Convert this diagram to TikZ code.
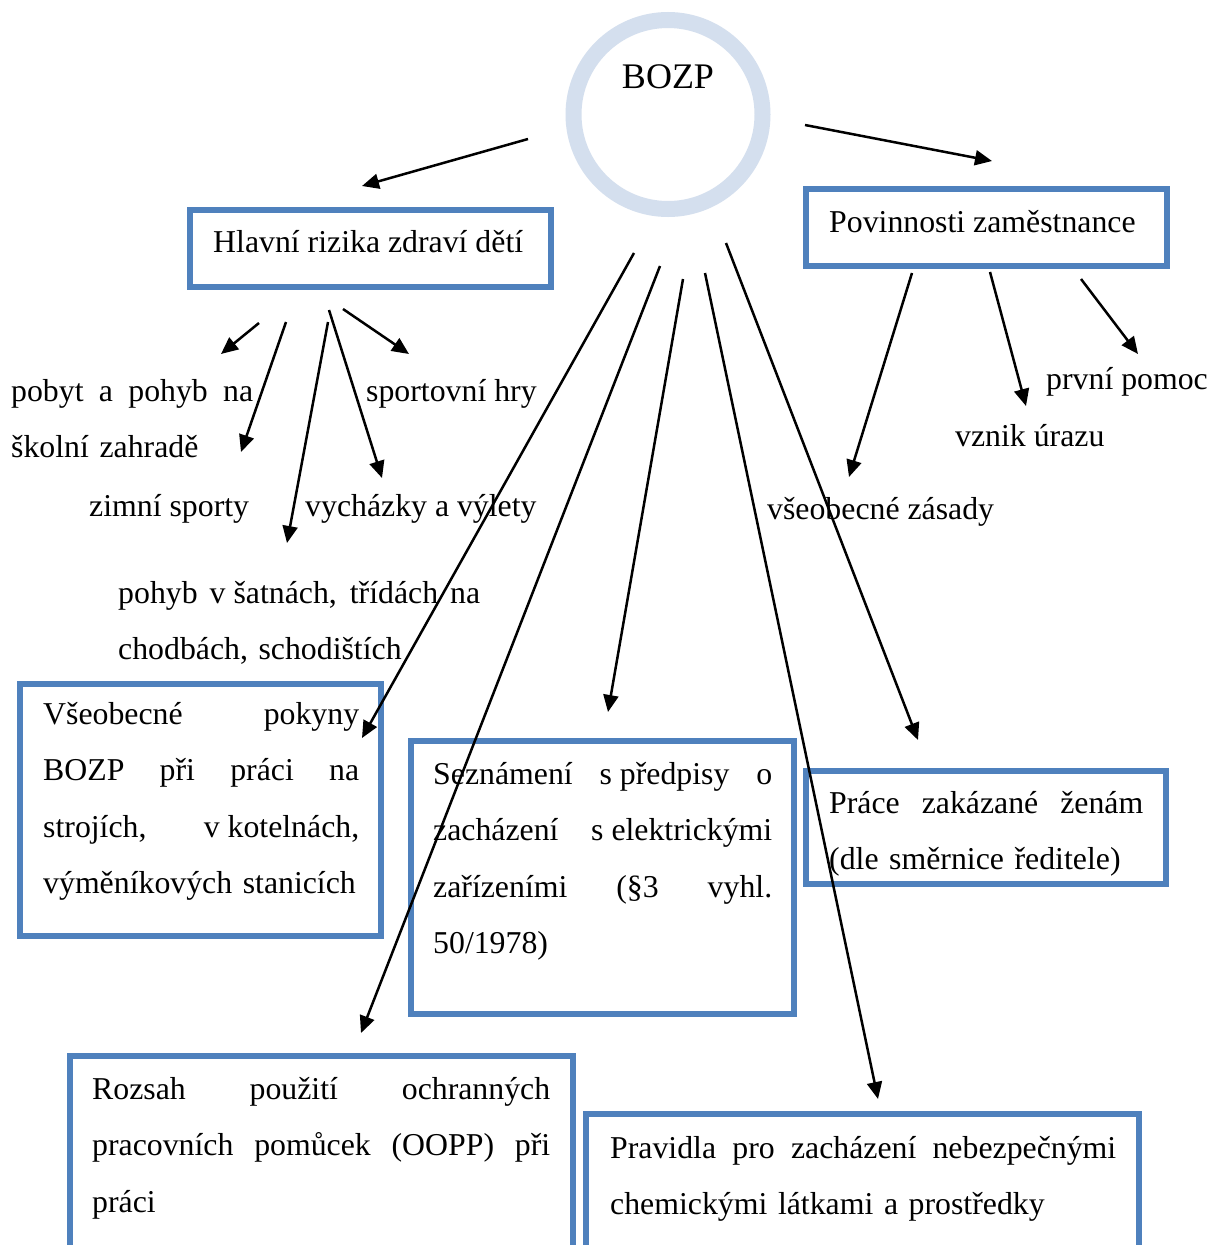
\documentclass[tikz,border=0pt]{standalone}
\usepackage{fontspec}
\setmainfont{Liberation Serif}
\usetikzlibrary{arrows.meta}
\definecolor{boxblue}{RGB}{79,129,189}
\definecolor{ringblue}{RGB}{212,223,238}
% fixed (non-stretching) space for one-letter prepositions
\newcommand\nb{\kern0.25em}
% a justified line of given width: every interword space stretches equally
\newcommand\jl[2]{\leavevmode\hbox to #1{\spaceskip=\fontdimen2\font plus 1fil\relax #2}}
\begin{document}
\begin{tikzpicture}[x=1pt,y=-1pt,
  frame/.style={draw=boxblue, line width=6pt},
  txt/.style={anchor=base west, inner sep=0pt, font=\fontsize{31.8}{56.6}\selectfont},
  para/.style={txt, text width=#1, align=left},
  arr/.style={line width=2.5pt, -{Triangle[length=17pt,width=15pt]}}]
\useasboundingbox (0,0) rectangle (1225,1245);
\clip (0,0) rectangle (1225,1245);
\fill[white] (0,0) rectangle (1225,1245);

% central ring
\node[circle, draw=ringblue, line width=16pt, minimum size=189pt, inner sep=0pt] (ring) at (668,114.5) {};
\node[anchor=base, inner sep=0pt, font=\fontsize{36}{40}\selectfont] (bozp) at (668,88) {BOZP};

% framed boxes
\draw[frame] (190,210) rectangle (551,287) node[pos=0] (b1) {};
\draw[frame] (806,189) rectangle (1167,266) node[pos=0] (b2) {};
\draw[frame] (20,684) rectangle (381,936) node[pos=0] (b3) {};
\draw[frame] (411,741) rectangle (794,1014) node[pos=0] (b4) {};
\draw[frame] (806,771) rectangle (1166,884) node[pos=0] (b5) {};
\draw[frame] (70,1056) rectangle (573,1270) node[pos=0] (b6) {};
\draw[frame] (586,1114) rectangle (1139,1270) node[pos=0] (b7) {};

% box texts
\node[txt] (hlavni) at (213,252) {Hlavní rizika zdraví dětí};
\node[txt] (povinnosti) at (829,232) {Povinnosti zaměstnance};
\node[para=316pt] (pokyny) at (43,724) {\jl{316pt}{Všeobecné pokyny}\\ \jl{316pt}{BOZP při práci na}\\ \jl{316pt}{strojích, v\nb kotelnách,}\\ výměníkových stanicích};
\node[para=339pt] (predpisy) at (433,784) {\jl{339pt}{Seznámení s\nb předpisy o}\\ \jl{339pt}{zacházení s\nb elektrickými}\\ \jl{339pt}{zařízeními (§3 vyhl.}\\ 50/1978)};
\node[para=314pt] (zeny) at (829,813) {\jl{314pt}{Práce zakázané ženám}\\ (dle směrnice ředitele)};
\node[para=458pt] (oopp) at (92,1099) {\jl{458pt}{Rozsah použití ochranných}\\ \jl{458pt}{pracovních pomůcek (OOPP) při}\\ práci};
\node[para=506pt] (chemie) at (610,1158) {\jl{506pt}{Pravidla pro zacházení nebezpečnými}\\ chemickými látkami a prostředky};

% free labels
\node[para=242pt] (zahrada) at (11,401) {\jl{242pt}{pobyt a pohyb na}\\ školní zahradě};
\node[txt] (sport) at (366,401) {sportovní hry};
\node[txt] (zima) at (89,516) {zimní sporty};
\node[txt] (vylety) at (305,516) {vycházky a výlety};
\node[para=362pt] (satny) at (118,603) {\jl{362pt}{pohyb v\nb šatnách, třídách na}\\ chodbách, schodištích};
\node[txt] (pomoc) at (1046,389) {první pomoc};
\node[txt] (uraz) at (955,446) {vznik úrazu};
\node[txt] (zasady) at (767,519) {všeobecné zásady};

% connector ends
\coordinate (a1s) at (528,139);  \coordinate (a1e) at (362,186);
\coordinate (a2s) at (805,125);  \coordinate (a2e) at (992,161);
\coordinate (a3s) at (634,253);  \coordinate (a3e) at (362,738);
\coordinate (a4s) at (660,266);  \coordinate (a4e) at (361,1033);
\coordinate (a5s) at (683,279);  \coordinate (a5e) at (608,712);
\coordinate (a6s) at (705,273);  \coordinate (a6e) at (878,1099);
\coordinate (a7s) at (726,243);  \coordinate (a7e) at (918,740);
\coordinate (h1s) at (259,323);  \coordinate (h1e) at (221,354);
\coordinate (h2s) at (286,322);  \coordinate (h2e) at (241,452);
\coordinate (h3s) at (328,322);  \coordinate (h3e) at (287,543);
\coordinate (h4s) at (329,310);  \coordinate (h4e) at (382,478);
\coordinate (h5s) at (343,309);  \coordinate (h5e) at (409,354);
\coordinate (p1s) at (912,273);  \coordinate (p1e) at (849,477);
\coordinate (p2s) at (990,272);  \coordinate (p2e) at (1026,406);
\coordinate (p3s) at (1081,279); \coordinate (p3e) at (1138,354);

% connectors
\foreach \c in {a1,a2,a3,a4,a5,a6,a7,h1,h2,h3,h4,h5,p1,p2,p3}
  \draw[arr] (\c s) -- (\c e);
\end{tikzpicture}
\end{document}
